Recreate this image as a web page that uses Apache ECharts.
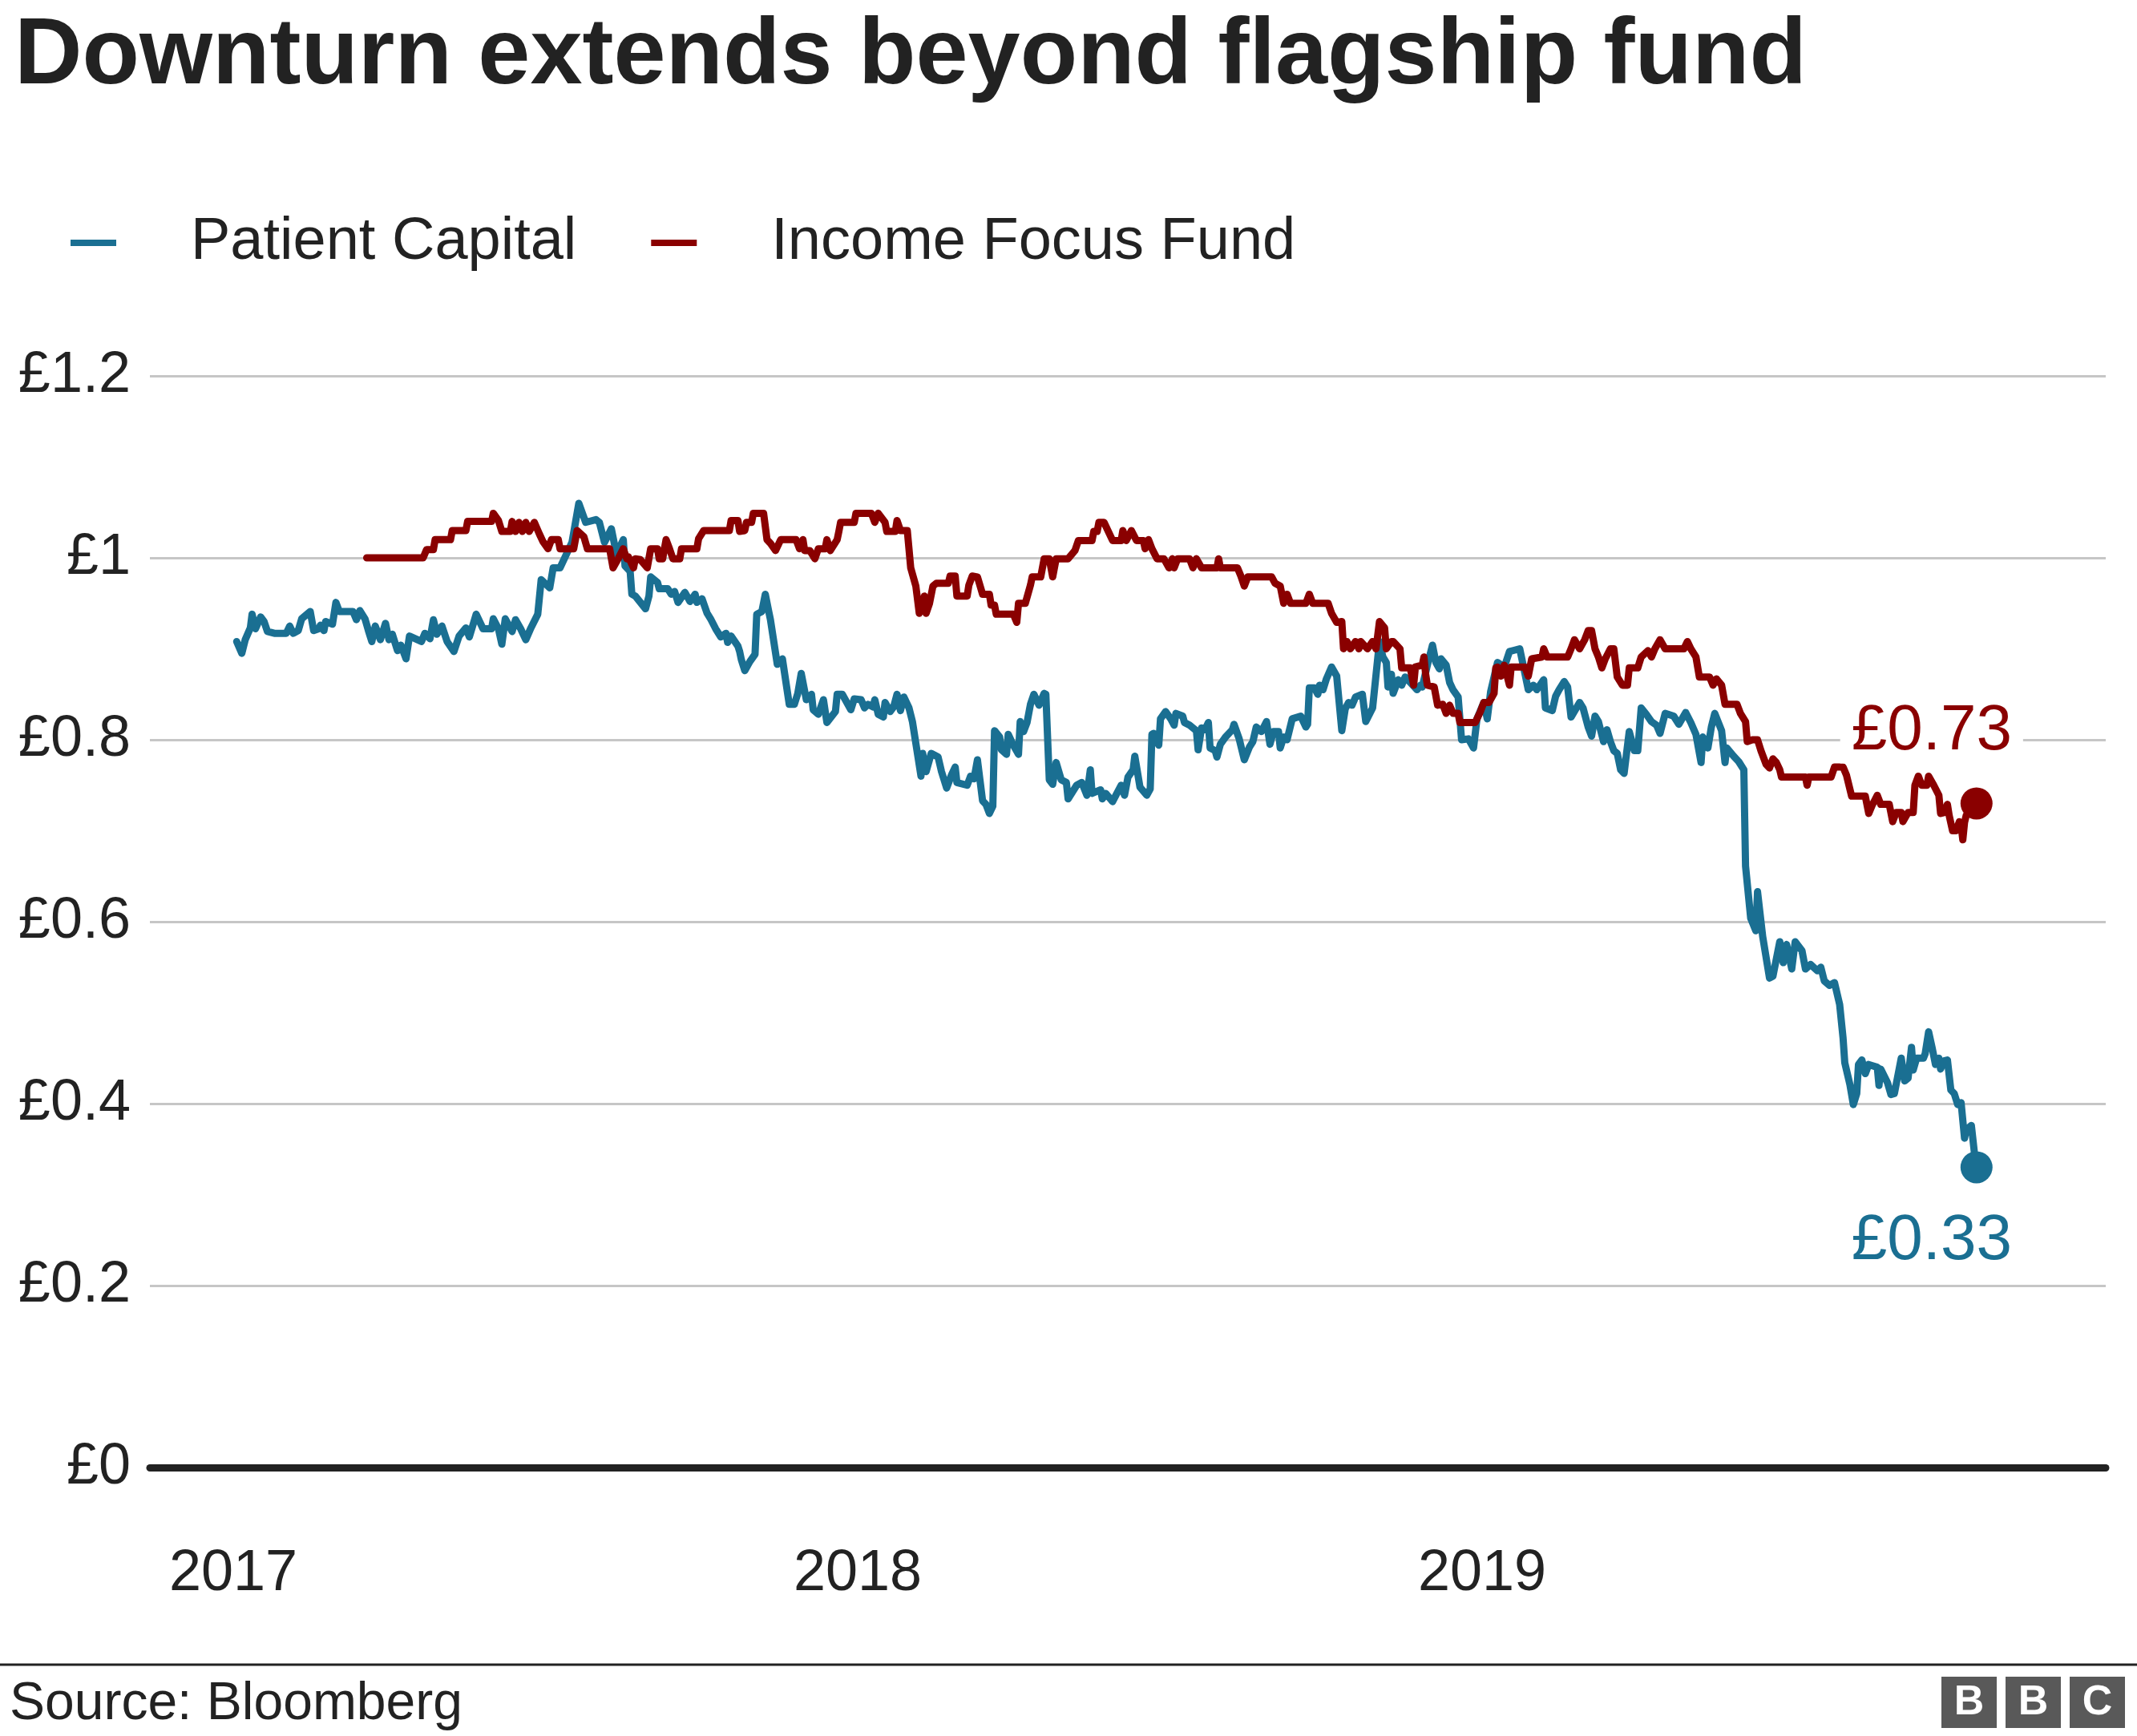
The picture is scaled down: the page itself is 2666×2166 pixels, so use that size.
<!DOCTYPE html>
<html>
<head>
<meta charset="utf-8">
<script src="https://cdn.jsdelivr.net/npm/echarts@6/dist/echarts.min.js"></script>
<style>
html,body{margin:0;padding:0;background:#ffffff;}
#chart{width:2666px;height:2166px;}
</style>
</head>
<body>
<div id="chart"></div>
<script>
// ---------------- DATA ----------------
const titleText = 'Downturn extends beyond flagship fund';
const sourceText = 'Source: Bloomberg';
const seriesNames = ['Patient Capital', 'Income Focus Fund'];
const yTickLabels = ['£0', '£0.2', '£0.4', '£0.6', '£0.8', '£1', '£1.2'];
const xTickDates = ['2017-01-01', '2018-01-01', '2019-01-01'];
const xTickLabels = ['2017', '2018', '2019'];
const xRange = ['2016-11-13T06:30:00Z', '2019-12-31T13:00:00Z'];

const patientDates = [
'2017-01-03','2017-01-06','2017-01-08','2017-01-11','2017-01-12','2017-01-14','2017-01-17','2017-01-19','2017-01-21','2017-01-25',
'2017-02-01','2017-02-03','2017-02-05','2017-02-08','2017-02-10','2017-02-15','2017-02-17','2017-02-20','2017-02-21','2017-02-23','2017-02-24','2017-02-28',
'2017-03-02','2017-03-04','2017-03-12','2017-03-14','2017-03-16','2017-03-19','2017-03-21','2017-03-23','2017-03-25','2017-03-28','2017-03-31',
'2017-04-02','2017-04-04','2017-04-07','2017-04-09','2017-04-12','2017-04-14','2017-04-21','2017-04-23','2017-04-26','2017-04-28','2017-04-30',
'2017-05-03','2017-05-06','2017-05-10','2017-05-13','2017-05-17','2017-05-19','2017-05-23','2017-05-27',
'2017-06-01','2017-06-02','2017-06-05','2017-06-07','2017-06-09','2017-06-13','2017-06-15','2017-06-18','2017-06-21','2017-06-24','2017-06-28','2017-06-30',
'2017-07-05','2017-07-07','2017-07-11','2017-07-14','2017-07-18','2017-07-22','2017-07-26',
'2017-08-01','2017-08-03','2017-08-06','2017-08-10','2017-08-13','2017-08-17','2017-08-18','2017-08-21','2017-08-22','2017-08-24','2017-08-30',
'2017-09-01','2017-09-02','2017-09-06','2017-09-07','2017-09-12','2017-09-14','2017-09-16','2017-09-18','2017-09-22','2017-09-25','2017-09-28','2017-09-29',
'2017-10-02','2017-10-05','2017-10-07','2017-10-10','2017-10-13','2017-10-16','2017-10-17','2017-10-19','2017-10-23','2017-10-24','2017-10-25','2017-10-27','2017-10-30',
'2017-11-02','2017-11-03','2017-11-06','2017-11-08','2017-11-10','2017-11-11','2017-11-15','2017-11-18','2017-11-22','2017-11-25','2017-11-27','2017-11-29',
'2017-12-02','2017-12-05','2017-12-06','2017-12-09','2017-12-12','2017-12-14','2017-12-19','2017-12-20','2017-12-23','2017-12-28','2017-12-30',
'2018-01-03','2018-01-05','2018-01-07','2018-01-10','2018-01-11','2018-01-13','2018-01-16','2018-01-17','2018-01-20','2018-01-22','2018-01-24','2018-01-26','2018-01-28','2018-01-31',
'2018-02-02','2018-02-07','2018-02-08','2018-02-10','2018-02-13','2018-02-17','2018-02-19','2018-02-22','2018-02-25','2018-02-27','2018-02-28',
'2018-03-06','2018-03-08','2018-03-10','2018-03-12','2018-03-15','2018-03-17','2018-03-19','2018-03-21','2018-03-22','2018-03-25','2018-03-26','2018-03-29','2018-03-30',
'2018-04-02','2018-04-05','2018-04-06','2018-04-08','2018-04-10','2018-04-12','2018-04-14','2018-04-17','2018-04-20','2018-04-21','2018-04-23','2018-04-25','2018-04-27','2018-04-30',
'2018-05-03','2018-05-04','2018-05-09','2018-05-12','2018-05-15','2018-05-17','2018-05-18','2018-05-23','2018-05-24','2018-05-26','2018-05-30',
'2018-06-04','2018-06-06','2018-06-08','2018-06-11','2018-06-12','2018-06-15','2018-06-19','2018-06-21','2018-06-22','2018-06-23','2018-06-26','2018-06-27','2018-06-30',
'2018-07-03','2018-07-05','2018-07-06','2018-07-10','2018-07-11','2018-07-14','2018-07-18','2018-07-19','2018-07-21','2018-07-23','2018-07-25','2018-07-26','2018-07-29','2018-07-30',
'2018-08-01','2018-08-04','2018-08-08','2018-08-09','2018-08-12','2018-08-15','2018-08-18','2018-08-20','2018-08-22','2018-08-25','2018-08-28','2018-08-30',
'2018-09-01','2018-09-04','2018-09-05','2018-09-07','2018-09-09','2018-09-12','2018-09-17','2018-09-20','2018-09-21','2018-09-22','2018-09-25','2018-09-27','2018-09-28','2018-09-30',
'2018-10-02','2018-10-05','2018-10-08','2018-10-11','2018-10-13','2018-10-15','2018-10-17','2018-10-19','2018-10-23','2018-10-25','2018-10-29',
'2018-11-02','2018-11-04','2018-11-06','2018-11-07','2018-11-09','2018-11-10','2018-11-13','2018-11-15','2018-11-17','2018-11-20','2018-11-24','2018-11-26','2018-11-27','2018-11-30',
'2018-12-03','2018-12-05','2018-12-07','2018-12-08','2018-12-11','2018-12-13','2018-12-15','2018-12-18','2018-12-20','2018-12-24','2018-12-27','2018-12-29',
'2019-01-02','2019-01-04','2019-01-06','2019-01-10','2019-01-14','2019-01-17','2019-01-19','2019-01-23','2019-01-25','2019-01-28','2019-01-31',
'2019-02-02','2019-02-06','2019-02-07','2019-02-11','2019-02-13','2019-02-15','2019-02-18','2019-02-20','2019-02-22','2019-02-27',
'2019-03-01','2019-03-04','2019-03-06','2019-03-08','2019-03-10','2019-03-13','2019-03-15','2019-03-17','2019-03-19','2019-03-21','2019-03-23','2019-03-25','2019-03-28','2019-03-31',
'2019-04-02','2019-04-04','2019-04-07','2019-04-10','2019-04-13','2019-04-15','2019-04-18','2019-04-23','2019-04-26','2019-04-30',
'2019-05-03','2019-05-06','2019-05-09','2019-05-10','2019-05-13','2019-05-15','2019-05-17','2019-05-21','2019-05-23','2019-05-24','2019-05-28','2019-05-31',
'2019-06-03','2019-06-04','2019-06-07','2019-06-10','2019-06-11','2019-06-14','2019-06-18','2019-06-20','2019-06-24','2019-06-26','2019-06-28',
'2019-07-01','2019-07-03','2019-07-07','2019-07-09','2019-07-12','2019-07-16','2019-07-18','2019-07-20','2019-07-23','2019-07-26','2019-07-29','2019-07-31',
'2019-08-01','2019-08-04','2019-08-06','2019-08-08','2019-08-09','2019-08-11','2019-08-13','2019-08-15','2019-08-20','2019-08-21','2019-08-22','2019-08-26','2019-08-28','2019-08-30',
'2019-09-03','2019-09-05','2019-09-07','2019-09-09','2019-09-10','2019-09-12','2019-09-16','2019-09-17','2019-09-19','2019-09-21','2019-09-23','2019-09-25','2019-09-26','2019-09-28','2019-09-30',
'2019-10-02','2019-10-04','2019-10-06','2019-10-08','2019-10-10','2019-10-11','2019-10-14','2019-10-16','2019-10-17'
];
const patientValues = [
0.908,0.895,0.910,0.923,0.938,0.922,0.935,0.930,0.919,0.917,
0.917,0.925,0.917,0.920,0.933,0.941,0.920,0.922,0.926,0.920,0.930,0.927,
0.951,0.941,0.941,0.932,0.942,0.933,0.920,0.908,0.925,0.910,0.928,
0.910,0.916,0.898,0.904,0.889,0.914,0.908,0.917,0.911,0.932,0.916,
0.925,0.908,0.897,0.914,0.923,0.913,0.938,0.922,
0.922,0.933,0.922,0.905,0.933,0.919,0.932,0.922,0.910,0.923,0.938,0.976,
0.967,0.989,0.989,1.001,1.017,1.060,1.039,
1.042,1.039,1.017,1.032,1.004,1.020,0.991,0.985,0.960,0.958,0.944,
0.958,0.979,0.973,0.966,0.966,0.960,0.963,0.951,0.962,0.952,0.960,0.951,
0.955,0.939,0.933,0.922,0.913,0.917,0.907,0.914,0.903,0.897,0.888,0.876,0.886,
0.894,0.938,0.941,0.960,0.941,0.932,0.883,0.889,0.839,0.839,0.851,0.873,
0.844,0.850,0.833,0.828,0.844,0.819,0.831,0.850,0.850,0.833,0.845,
0.844,0.835,0.839,0.836,0.844,0.828,0.825,0.841,0.831,0.836,0.850,0.832,0.847,0.835,
0.820,0.760,0.785,0.765,0.785,0.781,0.765,0.747,0.762,0.770,0.753,
0.750,0.760,0.757,0.778,0.733,0.729,0.719,0.727,0.810,0.803,0.789,0.784,0.806,
0.794,0.784,0.820,0.809,0.819,0.839,0.850,0.838,0.851,0.850,0.756,0.751,0.775,0.756,
0.753,0.735,0.750,0.753,0.739,0.767,0.741,0.745,0.735,0.741,0.732,
0.750,0.739,0.759,0.767,0.782,0.748,0.739,0.746,0.806,0.807,0.794,0.823,0.831,
0.823,0.816,0.829,0.826,0.819,0.816,0.810,0.789,0.813,0.811,0.819,0.791,0.788,0.781,
0.795,0.803,0.811,0.817,0.801,0.778,0.792,0.798,0.814,0.809,0.820,0.795,
0.809,0.809,0.791,0.803,0.800,0.823,0.826,0.814,0.817,0.857,0.857,0.850,0.860,0.855,
0.867,0.880,0.870,0.810,0.834,0.841,0.838,0.847,0.850,0.820,0.835,
0.908,0.891,0.885,0.858,0.872,0.851,0.866,0.860,0.869,0.863,0.855,0.860,0.858,0.882,
0.904,0.885,0.878,0.889,0.882,0.863,0.855,0.847,0.800,0.801,0.791,0.823,
0.841,0.823,0.853,0.885,0.880,0.897,0.898,0.900,0.882,0.855,0.860,
0.855,0.866,0.835,0.832,0.848,0.855,0.864,0.858,0.825,0.841,
0.835,0.814,0.804,0.826,0.820,0.798,0.811,0.798,0.788,0.785,0.767,0.763,0.809,0.788,
0.788,0.835,0.828,0.820,0.816,0.807,0.829,0.826,0.817,0.830,
0.819,0.806,0.775,0.803,0.791,0.814,0.829,0.810,0.775,0.791,0.782,0.776,
0.767,0.661,0.604,0.590,0.633,0.584,0.538,0.540,0.578,0.555,0.575,
0.548,0.578,0.568,0.548,0.553,0.546,0.550,0.535,0.530,0.533,0.509,0.472,
0.445,0.421,0.399,0.411,0.443,0.448,0.433,0.443,0.440,0.420,0.438,0.423,0.410,0.411,
0.450,0.425,0.428,0.462,0.437,0.450,0.450,0.455,0.479,0.462,0.443,0.450,0.438,0.447,0.448,
0.415,0.411,0.399,0.401,0.362,0.371,0.376,0.342,0.33
];

const incomeDates = [
'2017-03-20','2017-04-22','2017-04-24','2017-04-28','2017-04-29','2017-05-08','2017-05-09','2017-05-17','2017-05-18',
'2017-06-01','2017-06-02','2017-06-05','2017-06-07','2017-06-12','2017-06-13','2017-06-15','2017-06-17','2017-06-19','2017-06-21','2017-06-23','2017-06-26','2017-06-29',
'2017-07-01','2017-07-04','2017-07-06','2017-07-10','2017-07-11','2017-07-19','2017-07-21','2017-07-25','2017-07-27',
'2017-08-09','2017-08-11','2017-08-14','2017-08-17','2017-08-19','2017-08-20','2017-08-23','2017-08-24','2017-08-27','2017-08-31',
'2017-09-02','2017-09-06','2017-09-07','2017-09-09','2017-09-11','2017-09-13','2017-09-15','2017-09-19','2017-09-20','2017-09-29','2017-09-30',
'2017-10-03','2017-10-18','2017-10-19','2017-10-23','2017-10-24','2017-10-27','2017-10-28','2017-10-31',
'2017-11-01','2017-11-07','2017-11-09','2017-11-11','2017-11-14','2017-11-17','2017-11-26','2017-11-28','2017-11-30',
'2017-12-01','2017-12-04','2017-12-07','2017-12-09','2017-12-13','2017-12-14','2017-12-16','2017-12-18','2017-12-20','2017-12-21','2017-12-22','2017-12-30','2017-12-31',
'2018-01-09','2018-01-11','2018-01-13','2018-01-17','2018-01-18','2018-01-23','2018-01-24','2018-01-26','2018-01-30',
'2018-02-01','2018-02-04','2018-02-06','2018-02-09','2018-02-10','2018-02-12','2018-02-14','2018-02-16','2018-02-23','2018-02-24','2018-02-27','2018-02-28',
'2018-03-06','2018-03-07','2018-03-09','2018-03-12','2018-03-15','2018-03-19','2018-03-20','2018-03-22','2018-03-23',
'2018-04-02','2018-04-04','2018-04-05','2018-04-09','2018-04-12','2018-04-13','2018-04-18','2018-04-20','2018-04-23','2018-04-25','2018-04-27',
'2018-05-04','2018-05-08','2018-05-10','2018-05-18','2018-05-19','2018-05-21','2018-05-22','2018-05-25','2018-05-30',
'2018-06-04','2018-06-05','2018-06-07','2018-06-10','2018-06-13','2018-06-17','2018-06-18','2018-06-20','2018-06-22','2018-06-25','2018-06-29',
'2018-07-02','2018-07-04','2018-07-05','2018-07-07','2018-07-14','2018-07-16','2018-07-18','2018-07-21','2018-07-30','2018-07-31',
'2018-08-01','2018-08-11','2018-08-13','2018-08-15','2018-08-17','2018-08-31',
'2018-09-02','2018-09-05','2018-09-07','2018-09-09','2018-09-11','2018-09-20','2018-09-22','2018-09-24',
'2018-10-03','2018-10-05','2018-10-08','2018-10-11','2018-10-12','2018-10-14','2018-10-16','2018-10-19','2018-10-21','2018-10-22','2018-10-26','2018-10-29','2018-10-31',
'2018-11-02','2018-11-05','2018-11-06','2018-11-09','2018-11-10','2018-11-14','2018-11-15','2018-11-20','2018-11-22','2018-11-23','2018-11-27','2018-11-28','2018-11-29','2018-11-30',
'2018-12-04','2018-12-06','2018-12-09','2018-12-11','2018-12-13','2018-12-15','2018-12-18','2018-12-19','2018-12-28','2018-12-31',
'2019-01-02','2019-01-05','2019-01-08','2019-01-09','2019-01-10','2019-01-12','2019-01-14','2019-01-17','2019-01-18','2019-01-26','2019-01-28','2019-01-30',
'2019-02-05','2019-02-06','2019-02-08','2019-02-20','2019-02-22','2019-02-24','2019-02-27',
'2019-03-02','2019-03-04','2019-03-06','2019-03-08','2019-03-10','2019-03-12','2019-03-14','2019-03-17','2019-03-19','2019-03-21','2019-03-24','2019-03-27','2019-03-28',
'2019-04-02','2019-04-04','2019-04-08','2019-04-10','2019-04-12','2019-04-15','2019-04-18','2019-04-29',
'2019-05-01','2019-05-03','2019-05-06','2019-05-08','2019-05-14','2019-05-16','2019-05-18','2019-05-21','2019-05-23','2019-05-30',
'2019-06-01','2019-06-04','2019-06-05','2019-06-08','2019-06-11','2019-06-13','2019-06-16','2019-06-18','2019-06-20','2019-06-22','2019-06-24','2019-06-25',
'2019-07-09','2019-07-10','2019-07-11','2019-07-24','2019-07-26','2019-07-31',
'2019-08-02','2019-08-05','2019-08-13','2019-08-15','2019-08-17','2019-08-20','2019-08-22','2019-08-27','2019-08-29','2019-08-31',
'2019-09-03','2019-09-04','2019-09-07','2019-09-10','2019-09-11','2019-09-13','2019-09-15','2019-09-18','2019-09-19','2019-09-22','2019-09-25','2019-09-26','2019-09-28','2019-09-30',
'2019-10-01','2019-10-03','2019-10-05','2019-10-07','2019-10-08','2019-10-09','2019-10-10','2019-10-11','2019-10-17'
];
const incomeValues = [
1.000,1.000,1.009,1.009,1.020,1.020,1.030,1.030,1.040,
1.040,1.049,1.041,1.029,1.029,1.040,1.029,1.039,1.029,1.039,1.029,1.039,1.026,
1.018,1.010,1.020,1.020,1.010,1.010,1.030,1.023,1.010,
1.010,0.989,0.999,1.010,0.999,1.001,0.989,0.999,0.998,0.989,
1.010,1.010,0.999,0.999,1.020,1.010,0.999,0.999,1.010,1.010,1.021,
1.030,1.030,1.041,1.041,1.029,1.030,1.039,1.039,
1.049,1.049,1.020,1.016,1.008,1.020,1.020,1.010,1.020,
1.008,1.008,0.999,1.010,1.010,1.020,1.008,1.014,1.020,1.029,1.039,1.039,1.049,
1.049,1.039,1.049,1.039,1.029,1.029,1.041,1.030,1.030,
0.989,0.969,0.939,0.958,0.939,0.950,0.969,0.972,0.972,0.980,0.980,0.958,
0.958,0.970,0.980,0.979,0.960,0.960,0.948,0.948,0.938,
0.938,0.929,0.950,0.950,0.970,0.979,0.979,0.999,0.999,0.979,0.999,
0.999,1.008,1.019,1.019,1.029,1.029,1.039,1.039,1.019,
1.019,1.030,1.019,1.030,1.019,1.019,1.010,1.020,1.010,0.999,0.999,
0.989,0.999,0.989,0.999,0.999,0.989,0.999,0.989,0.989,0.999,
0.989,0.989,0.980,0.969,0.979,0.979,
0.972,0.969,0.950,0.960,0.950,0.950,0.960,0.950,
0.950,0.939,0.929,0.930,0.900,0.908,0.900,0.908,0.900,0.908,0.900,0.908,0.900,
0.930,0.923,0.900,0.908,0.908,0.900,0.879,0.879,0.860,0.880,0.882,0.891,0.872,0.860,
0.858,0.838,0.839,0.829,0.838,0.829,0.829,0.819,0.819,0.831,
0.841,0.841,0.851,0.879,0.880,0.870,0.882,0.860,0.880,0.880,0.870,0.889,
0.891,0.900,0.891,0.891,0.900,0.910,0.900,
0.910,0.920,0.920,0.900,0.891,0.879,0.889,0.900,0.900,0.869,0.860,0.860,0.879,
0.879,0.891,0.898,0.891,0.900,0.910,0.900,0.900,
0.908,0.900,0.891,0.869,0.869,0.860,0.867,0.860,0.839,0.839,
0.829,0.820,0.798,0.800,0.800,0.788,0.773,0.769,0.779,0.775,0.767,0.759,
0.759,0.750,0.759,0.759,0.770,0.770,
0.761,0.738,0.738,0.719,0.728,0.739,0.729,0.729,0.710,0.720,
0.720,0.710,0.720,0.720,0.750,0.760,0.750,0.750,0.760,0.750,0.739,0.719,0.720,0.729,
0.717,0.700,0.700,0.710,0.706,0.690,0.709,0.717,0.73
];

// ---------------- CHART ----------------
const FONT = "'Liberation Sans', Arial, Helvetica, sans-serif";
const BLUE = '#1a6f92';
const RED = '#8a0000';
const LINE_W = 9;
const ts = s => Date.parse(s.length === 10 ? s + 'T00:00:00Z' : s);
const zip = (d, v) => d.map((x, i) => [ts(x), v[i]]);
const lastPoint = (d, v) => [[ts(d[d.length - 1]), v[v.length - 1]]];
const xTickValues = xTickDates.map(ts);

const chart = echarts.init(document.getElementById('chart'), null, { renderer: 'canvas' });

const option = {
  animation: false,
  backgroundColor: '#ffffff',
  title: {
    text: titleText,
    left: 18,
    top: 13,
    padding: 0,
    textStyle: { fontFamily: FONT, fontSize: 117, fontWeight: 'bold', color: '#222222', lineHeight: 117 }
  },
  legend: {
    data: seriesNames,
    left: 88,
    top: 266,
    padding: 0,
    icon: 'rect',
    itemWidth: 57,
    itemHeight: 8,
    itemGap: 93,
    textStyle: { fontFamily: FONT, fontSize: 74, color: '#222222', lineHeight: 74, padding: [0, 0, 0, 88] }
  },
  grid: { left: 187, right: 39, top: 469, bottom: 335, containLabel: false },
  xAxis: {
    type: 'value',
    min: ts(xRange[0]),
    max: ts(xRange[1]),
    z: 3,
    axisLine: { show: true, onZero: false, lineStyle: { color: '#222222', width: 9 } },
    axisTick: { show: false },
    splitLine: { show: false },
    axisLabel: {
      customValues: xTickValues,
      fontFamily: FONT,
      fontSize: 72,
      color: '#222222',
      margin: 97,
      formatter: function (v) {
        const i = xTickValues.indexOf(v);
        return i >= 0 ? xTickLabels[i] : '';
      }
    }
  },
  yAxis: {
    type: 'value',
    min: 0,
    max: 1.2,
    interval: 0.2,
    axisLine: { show: false },
    axisTick: { show: false },
    splitLine: { show: true, lineStyle: { color: '#c6c6c6', width: 3 } },
    axisLabel: {
      fontFamily: FONT,
      fontSize: 72,
      color: '#222222',
      margin: 24,
      formatter: function (v) { return yTickLabels[Math.round(v / 0.2)]; }
    }
  },
  series: [
    {
      name: seriesNames[0],
      type: 'line',
      data: zip(patientDates, patientValues),
      showSymbol: false,
      symbol: 'none',
      color: BLUE,
      lineStyle: { color: BLUE, width: LINE_W, join: 'round', cap: 'round' },
      z: 2
    },
    {
      name: seriesNames[1],
      type: 'line',
      data: zip(incomeDates, incomeValues),
      showSymbol: false,
      symbol: 'none',
      color: RED,
      lineStyle: { color: RED, width: LINE_W, join: 'round', cap: 'round' },
      z: 3
    },
    {
      name: 'pcEnd',
      type: 'scatter',
      data: lastPoint(patientDates, patientValues),
      symbol: 'circle',
      symbolSize: 40,
      itemStyle: { color: BLUE, opacity: 1 },
      z: 5,
      label: {
        show: true,
        position: 'bottom',
        distance: 32,
        offset: [-56, 0],
        formatter: p => '£' + p.value[1].toFixed(2),
        fontFamily: FONT,
        fontSize: 80,
        lineHeight: 80,
        color: BLUE,
        opacity: 1,
        backgroundColor: '#ffffff',
        padding: [0, 14]
      }
    },
    {
      name: 'ifEnd',
      type: 'scatter',
      data: lastPoint(incomeDates, incomeValues),
      symbol: 'circle',
      symbolSize: 40,
      itemStyle: { color: RED, opacity: 1 },
      z: 5,
      label: {
        show: true,
        position: 'top',
        distance: 30,
        offset: [-56, 0],
        formatter: p => '£' + p.value[1].toFixed(2),
        fontFamily: FONT,
        fontSize: 80,
        lineHeight: 80,
        color: RED,
        opacity: 1,
        backgroundColor: '#ffffff',
        padding: [0, 14]
      }
    }
  ],
  graphic: [
    { type: 'line', shape: { x1: 0, y1: 2077, x2: 2666, y2: 2077 }, style: { stroke: '#222222', lineWidth: 3 } },
    { type: 'text', x: 12, y: 2127, style: { text: sourceText, font: "66px 'Liberation Sans', Arial, sans-serif", fill: '#222222', textVerticalAlign: 'middle', verticalAlign: 'middle' } },
    { type: 'rect', shape: { x: 2422, y: 2092, width: 69, height: 64 }, style: { fill: '#595959' } },
    { type: 'rect', shape: { x: 2502, y: 2092, width: 69, height: 64 }, style: { fill: '#595959' } },
    { type: 'rect', shape: { x: 2582, y: 2092, width: 69, height: 64 }, style: { fill: '#595959' } },
    { type: 'text', x: 2456.5, y: 2125, style: { text: 'B', font: "bold 52px 'Liberation Sans', Arial, sans-serif", fill: '#ffffff', textAlign: 'center', align: 'center', textVerticalAlign: 'middle', verticalAlign: 'middle' } },
    { type: 'text', x: 2536.5, y: 2125, style: { text: 'B', font: "bold 52px 'Liberation Sans', Arial, sans-serif", fill: '#ffffff', textAlign: 'center', align: 'center', textVerticalAlign: 'middle', verticalAlign: 'middle' } },
    { type: 'text', x: 2616.5, y: 2125, style: { text: 'C', font: "bold 52px 'Liberation Sans', Arial, sans-serif", fill: '#ffffff', textAlign: 'center', align: 'center', textVerticalAlign: 'middle', verticalAlign: 'middle' } }
  ]
};

chart.setOption(option);
</script>
</body>
</html>
